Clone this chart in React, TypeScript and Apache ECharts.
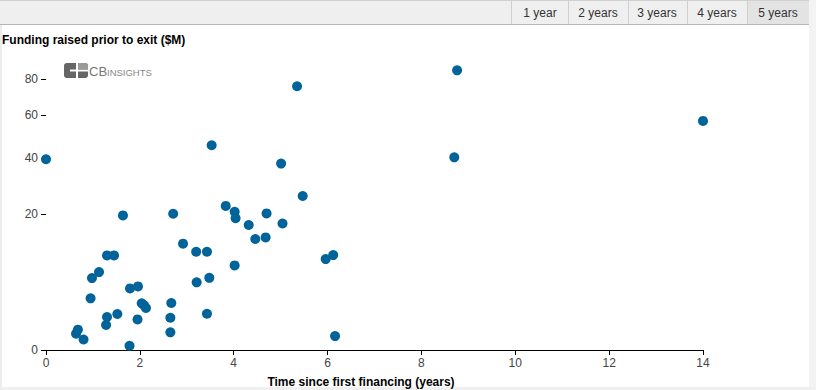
import React, { useEffect, useRef } from "react";
import * as echarts from "echarts";

const yearsSinceFirst: number[] = [
  0.0, 0.64, 0.68, 0.8, 0.95, 0.98, 1.13, 1.3, 1.45, 1.3, 1.28, 1.52, 1.64, 1.79, 1.96, 1.78, 1.95,
  2.04, 2.09, 2.13, 2.71, 2.92, 2.67, 2.65, 2.65, 3.2, 3.43, 3.21, 3.48, 3.43, 3.53, 3.83, 4.02,
  4.04, 4.32, 4.02, 4.7, 4.46, 4.68, 5.04, 5.01, 5.35, 5.47, 5.96, 6.12, 6.16, 8.7, 8.76, 14.0,
];
const fundingRaised: number[] = [
  39.6, 0.29, 0.45, 0.12, 2.9, 5.63, 6.6, 9.74, 9.74, 1.18, 0.68, 1.41, 19.7, 4.13, 4.4, 0.02, 1.02,
  2.37, 2.17, 1.92, 20.2, 12.3, 2.4, 1.13, 0.34, 10.5, 10.5, 4.98, 5.67, 1.43, 45.6, 22.6, 20.8,
  18.9, 17.0, 7.79, 20.3, 13.4, 13.8, 17.4, 37.8, 75.7, 25.8, 8.99, 9.8, 0.21, 40.4, 85.1, 57.1,
];
const yTickValues: number[] = [0, 20, 40, 60, 80];
const rangeButtons: string[] = ["1 year", "2 years", "3 years", "4 years", "5 years"];

const FONT = '"Liberation Sans", Arial, sans-serif';

export default function App() {
  const ref = useRef<HTMLDivElement>(null);
  useEffect(() => {
    if (!ref.current) return;
    const chart = echarts.init(ref.current, null, { renderer: "svg" });
    const data = yearsSinceFirst.map((x, i) => [x, Math.sqrt(fundingRaised[i])]);
    const sqrtTicks = yTickValues.map((v) => Math.sqrt(v));

    const dividers = [511, 568, 628, 687, 747];
    const btnCenters = [540, 598, 657, 717, 778];

    const graphic: any[] = [
      // frame strips
      { type: "rect", shape: { x: 809, y: 0, width: 7, height: 390 }, style: { fill: "#f3f3f3" }, silent: true },
      { type: "rect", shape: { x: 0, y: 387, width: 816, height: 3 }, style: { fill: "#f0f0f0" }, silent: true },
      { type: "rect", shape: { x: 0, y: 0, width: 2, height: 390 }, style: { fill: "#ececec" }, silent: true },
      // top bar
      { type: "rect", shape: { x: 0, y: 0, width: 809, height: 24 }, style: { fill: "#efefef" }, silent: true },
      { type: "rect", shape: { x: 747, y: 0, width: 62, height: 24 }, style: { fill: "#e3e3e3" }, silent: true },
      { type: "line", shape: { x1: 0, y1: 0.5, x2: 809, y2: 0.5 }, style: { stroke: "#d0d0d0", lineWidth: 1 }, silent: true },
      { type: "line", shape: { x1: 0, y1: 24.5, x2: 809, y2: 24.5 }, style: { stroke: "#b5b5b5", lineWidth: 1 }, silent: true },
      ...dividers.map((x) => ({
        type: "line",
        shape: { x1: x + 0.5, y1: 1, x2: x + 0.5, y2: 24 },
        style: { stroke: "#cfcfcf", lineWidth: 1 },
        silent: true,
      })),
      ...rangeButtons.map((t, i) => ({
        type: "text",
        x: btnCenters[i],
        y: 13,
        style: { text: t, fill: "#333", font: `12px ${FONT}`, textAlign: "center", textVerticalAlign: "middle" },
        silent: true,
      })),
      // y title
      {
        type: "text",
        x: 2,
        y: 40,
        style: {
          text: "Funding raised prior to exit ($M)",
          fill: "#000",
          font: `bold 12px ${FONT}`,
          textAlign: "left",
          textVerticalAlign: "middle",
        },
        silent: true,
      },
      // x title
      {
        type: "text",
        x: 361,
        y: 382,
        style: {
          text: "Time since first financing (years)",
          fill: "#000",
          font: `bold 12px ${FONT}`,
          textAlign: "center",
          textVerticalAlign: "middle",
        },
        silent: true,
      },
      // axis line extension
      { type: "line", shape: { x1: 41, y1: 350.5, x2: 46, y2: 350.5 }, style: { stroke: "#000", lineWidth: 1 }, silent: true },
      // logo
      { type: "rect", shape: { x: 64, y: 63, width: 24, height: 15, r: 3 }, style: { fill: "#666" }, silent: true },
      { type: "rect", shape: { x: 76, y: 63, width: 2, height: 15 }, style: { fill: "#fff" }, silent: true },
      { type: "rect", shape: { x: 70, y: 69.5, width: 18, height: 2 }, style: { fill: "#fff" }, silent: true },
      { type: "rect", shape: { x: 78, y: 63, width: 10, height: 6.5, r: [0, 3, 0, 0] }, style: { fill: "#9a9a9a" }, silent: true },
      {
        type: "text",
        x: 89,
        y: 71,
        style: { text: "CB", fill: "#777", font: `13px ${FONT}`, textAlign: "left", textVerticalAlign: "middle" },
        silent: true,
      },
      {
        type: "text",
        x: 107,
        y: 72,
        style: { text: "INSIGHTS", fill: "#888", font: `9.5px ${FONT}`, textAlign: "left", textVerticalAlign: "middle" },
        silent: true,
      },
    ];

    chart.setOption({
      animation: false,
      backgroundColor: "#fff",
      grid: { left: 46, right: 113, top: 62, bottom: 40 },
      xAxis: {
        type: "value",
        min: 0,
        max: 14,
        interval: 2,
        axisLine: { show: true, lineStyle: { color: "#000", width: 1 } },
        axisTick: { show: true, length: 5, lineStyle: { color: "#000" } },
        axisLabel: { color: "#444", fontSize: 12, fontFamily: FONT, margin: 7 },
        splitLine: { show: false },
      },
      yAxis: {
        type: "value",
        min: 0,
        max: 9.5,
        axisLine: { show: false },
        axisTick: { show: true, length: 5, customValues: sqrtTicks, lineStyle: { color: "#000" } },
        axisLabel: {
          color: "#444",
          fontSize: 12,
          fontFamily: FONT,
          margin: 8,
          customValues: sqrtTicks,
          formatter: (v: number) => String(Math.round(v * v)),
        },
        splitLine: { show: false },
      },
      series: [
        {
          type: "scatter",
          data,
          symbolSize: 10,
          itemStyle: { color: "#00639a", opacity: 1 },
          emphasis: { disabled: true },
        },
      ],
      graphic,
    });
    return () => chart.dispose();
  }, []);
  return <div ref={ref} style={{ position: "fixed", left: 0, top: 0, width: 816, height: 390 }} />;
}
